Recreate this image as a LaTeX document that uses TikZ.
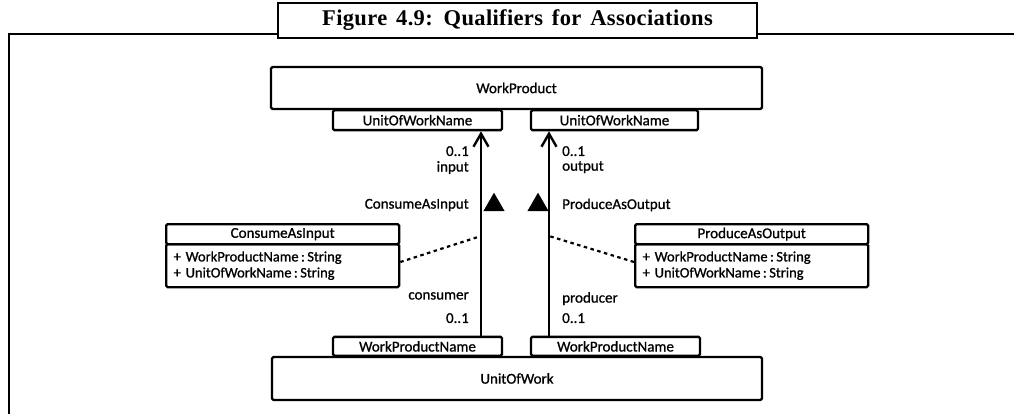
\documentclass[tikz,border=0pt]{standalone}
\usepackage{fontspec}
\setmainfont{Liberation Serif}
\newfontfamily\umlfont[FakeBold=0.9]{Carlito}
\newfontfamily\captionfont[LetterSpace=1.5, WordSpace=1.5]{Liberation Serif}
\usetikzlibrary{arrows.meta,shapes.geometric}

\tikzset{
  frameline/.style={line width=2.6pt, line cap=rect},
  umlbox/.style={draw, line width=2.3pt, rounded corners=1.5pt, inner sep=0pt,
    font=\umlfont\fontsize{15}{17}\selectfont},
  qualbox/.style={umlbox, minimum height=20pt},
  assoc/.style={line width=2.4pt, -{Straight Barb[length=13pt, width=15pt, line width=2.4pt]}},
  linkline/.style={line width=2.2pt, dash pattern=on 3.5pt off 3.5pt},
  endlabel/.style={inner sep=0pt, font=\umlfont\fontsize{15}{17}\selectfont, align=left},
  attrtext/.style={font=\umlfont\fontsize{14.5}{16}\selectfont},
  navtri/.style={regular polygon, regular polygon sides=3, fill=black, draw=black,
    line width=1pt, inner sep=0pt, minimum size=22.5pt}
}

\begin{document}
\begin{tikzpicture}[x=1pt, y=-1pt]
  \useasboundingbox (0,0) rectangle (1014,414);

  % framed caption
  \node[draw, line width=2.4pt, minimum width=479pt, minimum height=35pt, inner sep=0pt,
        font=\captionfont\bfseries\fontsize{22.5}{24}\selectfont] (title) at (517.5,20.5)
        {Figure 4.9: Qualifiers for Associations};
  \coordinate (frameBL) at (9,414);
  \coordinate (frameTR) at (1014,34);
  \draw[frameline] (frameBL) |- (title.west |- frameTR);
  \draw[frameline] (title.east |- frameTR) -- (frameTR);

  % classes with their qualifiers
  \node[umlbox, minimum width=491pt, minimum height=42pt] (wp) at (516.5,88) {WorkProduct};
  \node[qualbox, minimum width=169pt, anchor=north] (uownL) at (417.5,109) {UnitOfWorkName};
  \node[qualbox, minimum width=167pt, anchor=north] (uownR) at (614.5,109) {UnitOfWorkName};

  \node[umlbox, minimum width=490pt, minimum height=43pt] (uow) at (517,378.5) {UnitOfWork};
  \node[qualbox, minimum width=169pt, minimum height=19pt, anchor=south] (wpnL) at (417.5,357) {WorkProductName};
  \node[qualbox, minimum width=169pt, minimum height=19pt, anchor=south] (wpnR) at (615.5,357) {WorkProductName};

  % association lines
  \coordinate (xL) at (481,0);
  \coordinate (xR) at (549,0);
  \draw[assoc] (wpnL.north -| xL) -- (uownL.south -| xL);
  \draw[assoc] (wpnR.north -| xR) -- (uownR.south -| xR);

  % association end labels
  \node[endlabel, anchor=north east] (multInL) at (469,146) {0..1};
  \node[endlabel, anchor=north east] (roleInL) at (469,161) {input};
  \node[endlabel, anchor=north west] (multOutR) at (562,146) {0..1};
  \node[endlabel, anchor=north west] (roleOutR) at (562,161) {output};
  \node[endlabel, anchor=north east] (roleCons) at (469,292) {consumer};
  \node[endlabel, anchor=north east] (multCons) at (469,313) {0..1};
  \node[endlabel, anchor=north west] (roleProd) at (562,292) {producer};
  \node[endlabel, anchor=north west] (multProd) at (562,313) {0..1};

  % association names with direction markers
  \node[endlabel, anchor=east] (nameL) at (469,205) {ConsumeAsInput};
  \node[endlabel, anchor=west] (nameR) at (562,205) {ProduceAsOutput};
  \node[navtri] (triL) at (494,205) {};
  \node[navtri] (triR) at (538,205) {};

  % association classes
  \node[umlbox, minimum width=233pt, minimum height=20pt, anchor=north west] (caiHead) at (165,223) {ConsumeAsInput};
  \node[umlbox, attrtext, minimum width=233pt, minimum height=43pt, anchor=north west, text width=218pt,
        inner xsep=7.5pt, align=left] (caiBody) at (165,243)
        {+ WorkProductName\,:\,String\\+ UnitOfWorkName\,:\,String};
  \node[umlbox, minimum width=233pt, minimum height=20pt, anchor=north west] (paoHead) at (634,223) {ProduceAsOutput};
  \node[umlbox, attrtext, minimum width=233pt, minimum height=43pt, anchor=north west, text width=218pt,
        inner xsep=7.5pt, align=left] (paoBody) at (634,243)
        {+ WorkProductName\,:\,String\\+ UnitOfWorkName\,:\,String};

  % links from association classes to their associations
  \coordinate (linkL) at (481,236);
  \coordinate (linkR) at (549,236);
  \draw[linkline] (caiBody.east |- 0,262) -- (linkL);
  \draw[linkline] (paoBody.west |- 0,262) -- (linkR);
\end{tikzpicture}
\end{document}
